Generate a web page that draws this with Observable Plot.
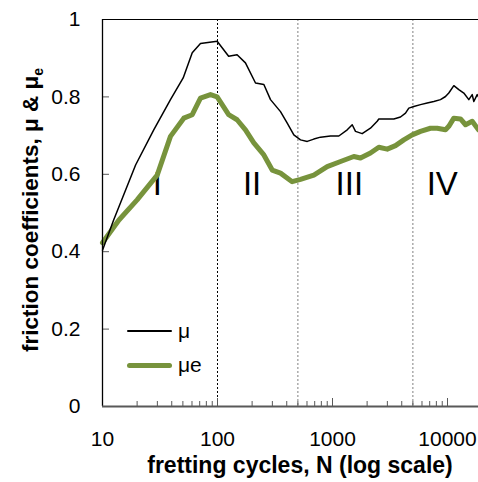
<!DOCTYPE html>
<html>
<head>
<meta charset="utf-8">
<script src="https://cdn.jsdelivr.net/npm/d3@7"></script>
<script src="https://cdn.jsdelivr.net/npm/@observablehq/plot@0.6"></script>
<style>
  body { margin: 0; background: #fff; }
  #wrap { position: relative; width: 478px; height: 482px; }
  #legend { position: absolute; left: 127px; top: 314px; font-family: "Liberation Sans", Arial, sans-serif; font-size: 21px; color: #000; }
  .item { display: flex; align-items: center; height: 34px; }
  .sw { width: 45px; margin-right: 6px; border-radius: 3px; }
</style>
</head>
<body>
<div id="wrap">
  <div id="chart"></div>
  <div id="legend"></div>
</div>
<script>
// friction coefficient μ (black)
const N_mu = [10, 12.5, 19.4, 27.9, 39, 50.3, 60.3, 71.1, 99.3, 125, 148, 175, 214, 253, 289, 353, 404, 461, 527, 603, 688, 787, 961, 1135, 1343, 1484, 1585, 1811, 2138, 2447, 2528, 2991, 3413, 3902, 4313, 4608, 5093, 5823, 6655, 7603, 8690, 9610, 10260, 11350, 12540, 13860, 15320, 16400, 16940, 18120, 18600];
const mu = [0.404, 0.482, 0.624, 0.715, 0.793, 0.849, 0.914, 0.938, 0.944, 0.905, 0.909, 0.888, 0.836, 0.832, 0.793, 0.762, 0.732, 0.702, 0.689, 0.685, 0.691, 0.696, 0.699, 0.699, 0.715, 0.728, 0.711, 0.705, 0.719, 0.737, 0.743, 0.743, 0.743, 0.748, 0.758, 0.771, 0.775, 0.780, 0.784, 0.788, 0.793, 0.801, 0.810, 0.829, 0.819, 0.810, 0.793, 0.806, 0.788, 0.806, 0.800];
// energy friction coefficient μe (green)
const N_mue = [10, 13.9, 20, 29.9, 39, 50.9, 60.3, 71.1, 86.9, 99.3, 125, 148, 175, 207, 253, 299, 353, 446, 527, 688, 899, 1175, 1532, 1751, 2138, 2528, 2991, 3530, 4169, 4930, 5823, 7112, 8128, 9610, 10260, 11350, 12970, 14350, 16400, 18600];
const mue = [0.423, 0.482, 0.534, 0.598, 0.698, 0.745, 0.754, 0.797, 0.806, 0.800, 0.754, 0.741, 0.715, 0.681, 0.650, 0.611, 0.603, 0.581, 0.587, 0.598, 0.620, 0.633, 0.646, 0.642, 0.655, 0.670, 0.665, 0.674, 0.689, 0.702, 0.711, 0.719, 0.719, 0.715, 0.724, 0.745, 0.743, 0.728, 0.737, 0.715];

const xTickValues = [10, 100, 1000, 10000];
const yTickValues = [0, 0.2, 0.4, 0.6, 0.8, 1];
const boundaries = [100, 500, 5000];
const boundaryColors = ["#000000", "#808080", "#808080"];
const regionLabels = ["I", "II", "III", "IV"];
const regionN = [30, 200, 1400, 9000];
const regionY = 0.575;
const seriesNames = ["μ", "μe"];
const seriesColors = ["#000000", "#77933C"];

const font = "'Liberation Sans', Arial, sans-serif";
const muData = N_mu.map((n, i) => ({N: n, v: mu[i]}));
const mueData = N_mue.map((n, i) => ({N: n, v: mue[i]}));
const minorTicks = [];
for (const d of [10, 100, 1000, 10000]) for (let k = 2; k <= 9; k++) if (d * k <= 18600) minorTicks.push(d * k);

const W = 478, H = 482, mL = 102, mR = 0, mT = 19, mB = 76;
const innerH = H - mT - mB, innerW = W - mL - mR;

const chart = Plot.plot({
  width: W, height: H,
  marginLeft: mL, marginRight: mR, marginTop: mT, marginBottom: mB,
  style: {fontFamily: font, background: "#fff", overflow: "visible"},
  x: {type: "log", domain: [10, 18600]},
  y: {domain: [0, 1]},
  marks: [
    Plot.ruleX(boundaries, {x: d => d, stroke: (d, i) => boundaryColors[i], strokeDasharray: "2,2", strokeWidth: 1}),
    Plot.ruleY([1], {stroke: "#000", strokeWidth: 1}),
    Plot.tickX(minorTicks, {x: d => d, insetTop: innerH - 5, stroke: "#595959", strokeWidth: 1}),
    Plot.tickX(xTickValues, {x: d => d, insetTop: innerH - 8, stroke: "#595959", strokeWidth: 1}),
    Plot.tickY(yTickValues.slice(1, -1), {y: d => d, insetRight: innerW - 7, stroke: "#595959", strokeWidth: 1}),
    Plot.axisX({ticks: xTickValues, tickSize: 0, tickPadding: 25, tickFormat: d => String(d), fontSize: 21, label: null}),
    Plot.axisY({ticks: yTickValues, tickSize: 0, tickPadding: 22, tickFormat: d => String(d), fontSize: 21, label: null}),
    Plot.text(regionLabels, {x: (d, i) => regionN[i], y: regionY, text: d => d, fontSize: 33, fill: "#000"}),
    Plot.line(mueData, {x: "N", y: "v", stroke: seriesColors[1], strokeWidth: 5, strokeLinejoin: "round", strokeLinecap: "round"}),
    Plot.line(muData, {x: "N", y: "v", stroke: seriesColors[0], strokeWidth: 1.5}),
    Plot.ruleX([10], {stroke: "#000", strokeWidth: 1.3}),
    Plot.ruleY([0], {stroke: "#595959", strokeWidth: 2})
  ]
});
document.getElementById("chart").appendChild(chart);

const svg = d3.select(chart);
svg.append("text")
  .attr("x", 300).attr("y", 473)
  .attr("text-anchor", "middle")
  .attr("font-family", font).attr("font-weight", "bold").attr("font-size", 23)
  .attr("fill", "#000")
  .text("fretting cycles, N (log scale)");
const yt = svg.append("text")
  .attr("transform", "translate(38,210) rotate(-90)")
  .attr("text-anchor", "middle")
  .attr("font-family", font).attr("font-weight", "bold").attr("font-size", 22.5)
  .attr("fill", "#000");
yt.append("tspan").text("friction coefficients, μ & μ");
yt.append("tspan").attr("font-size", 14).attr("dy", 5).text("e");

const legend = d3.select("#legend");
seriesNames.forEach((name, i) => {
  const it = legend.append("div").attr("class", "item");
  it.append("div").attr("class", "sw")
    .style("height", i === 0 ? "1.5px" : "5px")
    .style("background", seriesColors[i]);
  it.append("span").text(name);
});
</script>
</body>
</html>
